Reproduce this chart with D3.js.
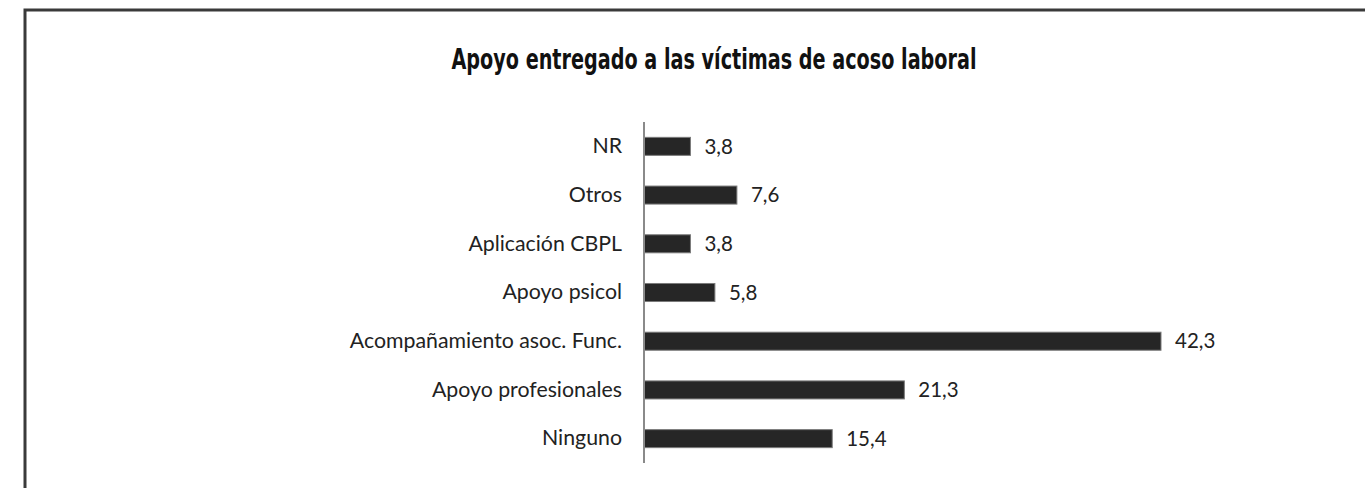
<!DOCTYPE html>
<html>
<head>
<meta charset="utf-8">
<script src="https://cdn.jsdelivr.net/npm/d3@7"></script>
<style>
  html, body { margin: 0; padding: 0; background: #fff; overflow: hidden; }
  svg { display: block; }
</style>
</head>
<body>
<svg id="chart" width="1365" height="488"></svg>
<script>
const title = "Apoyo entregado a las víctimas de acoso laboral";
const categories = ["NR", "Otros", "Aplicación CBPL", "Apoyo psicol", "Acompañamiento asoc. Func.", "Apoyo profesionales", "Ninguno"];
const values = [3.8, 7.6, 3.8, 5.8, 42.3, 21.3, 15.4];

const svg = d3.select("#chart");
const W = 1365, H = 488;

// frame: only left and top edges are visible in the picture
svg.append("path")
  .attr("d", `M25,${H}V10H${W}`)
  .attr("fill", "none")
  .attr("stroke", "#3a3a3a")
  .attr("stroke-width", 3);

svg.append("text")
  .attr("x", 714).attr("y", 69)
  .attr("text-anchor", "middle")
  .attr("font-family", "'Liberation Sans Narrow', 'DejaVu Sans Condensed', 'Roboto Condensed', Roboto, sans-serif")
  .attr("font-stretch", "condensed")
  .attr("font-weight", "bold")
  .attr("font-size", 28)
  .attr("fill", "#111")
  .attr("textLength", 525)
  .attr("lengthAdjust", "spacingAndGlyphs")
  .text(title);

const x0 = 644;
const x = d3.scaleLinear().domain([0, 42.3]).range([x0, 1161]);
const y = d3.scaleBand().domain(categories).range([122, 463]).paddingInner(0.63).paddingOuter(0.315);

const g = svg.append("g");

g.selectAll("rect.bar")
  .data(values)
  .enter().append("rect")
  .attr("class", "bar")
  .attr("x", x(0))
  .attr("y", (d, i) => y(categories[i]))
  .attr("width", d => x(d) - x(0))
  .attr("height", y.bandwidth())
  .attr("fill", "#262626")
  .attr("stroke", "#7a7a7a")
  .attr("stroke-width", 1);

const axis = d3.axisLeft(y).tickSize(0).tickPadding(22);
const ax = svg.append("g").attr("transform", `translate(${x0},0)`).call(axis);
ax.select(".domain").attr("stroke", "#8a8a8a").attr("stroke-width", 2)
  .attr("d", `M0,122V463`);
ax.selectAll(".tick text")
  .attr("font-family", "Lato, 'Open Sans', sans-serif")
  .attr("font-size", 21.3)
  .attr("fill", "#222");

g.selectAll("text.val")
  .data(values)
  .enter().append("text")
  .attr("class", "val")
  .attr("x", d => x(d) + 14)
  .attr("y", (d, i) => y(categories[i]) + y.bandwidth() / 2)
  .attr("dy", "0.35em")
  .attr("font-family", "Lato, 'Open Sans', sans-serif")
  .attr("font-size", 20.5)
  .attr("fill", "#222")
  .text(d => d.toFixed(1).replace(".", ","));
</script>
</body>
</html>
